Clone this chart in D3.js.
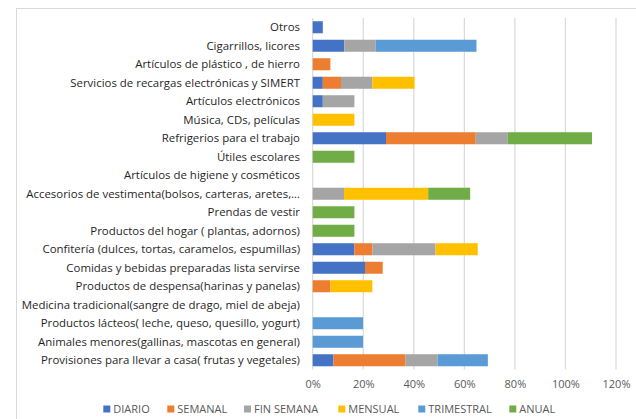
<!DOCTYPE html>
<html><head><meta charset="utf-8">
<script src="https://cdn.jsdelivr.net/npm/d3@7"></script>
<style>
body{margin:0;background:#fff;}
svg{display:block;font-family:"Open Sans","Noto Sans",sans-serif;}
</style></head>
<body><svg id="c" width="636" height="419"></svg>
<script>
const categories = [
 "Otros","Cigarrillos, licores","Artículos de plástico , de hierro",
 "Servicios de recargas electrónicas y SIMERT","Artículos electrónicos",
 "Música, CDs, películas","Refrigerios para el trabajo","Útiles escolares",
 "Artículos de higiene y cosméticos","Accesorios de vestimenta(bolsos, carteras, aretes,…",
 "Prendas de vestir","Productos del hogar ( plantas, adornos)",
 "Confitería (dulces, tortas, caramelos, espumillas)","Comidas y bebidas preparadas lista servirse",
 "Productos de despensa(harinas y panelas)","Medicina tradicional(sangre de drago, miel de abeja)",
 "Productos lácteos( leche, queso, quesillo, yogurt)","Animales menores(gallinas, mascotas en general)",
 "Provisiones para llevar a casa( frutas y vegetales)"
];
const seriesNames = ["DIARIO","SEMANAL","FIN SEMANA","MENSUAL","TRIMESTRAL","ANUAL"];
const diario     = [0.04,0.125,0,0.04,0.04,0,0.29,0,0,0,0,0,0.165,0.207,0,0,0,0,0.082];
const semanal    = [0,0,0.07,0.072,0,0,0.355,0,0,0,0,0,0.071,0.07,0.07,0,0,0,0.284];
const finSemana  = [0,0.124,0,0.124,0.125,0,0.127,0,0,0.124,0,0,0.25,0,0,0,0,0,0.128];
const mensual    = [0,0,0,0.167,0,0.165,0,0,0,0.333,0,0,0.167,0,0.166,0,0,0,0];
const trimestral = [0,0.399,0,0,0,0,0,0,0,0,0,0,0,0,0,0,0.199,0.199,0.199];
const anual      = [0,0,0,0,0,0,0.333,0.165,0,0.166,0.165,0.165,0,0,0,0,0,0,0];
const tickValues = [0,0.2,0.4,0.6,0.8,1.0,1.2];
const colors = ["#4472C4","#ED7D31","#A5A5A5","#FFC000","#5B9BD5","#70AD47"];

const seriesData = [diario,semanal,finSemana,mensual,trimestral,anual];
const rows = categories.map((c,i)=>{const o={cat:c};seriesNames.forEach((s,j)=>o[s]=seriesData[j][i]);return o;});
const stacked = d3.stack().keys(seriesNames)(rows);

const svg = d3.select("#c");
// chart frame
svg.append("rect").attr("x",16.5).attr("y",8.5).attr("width",700).attr("height",500)
  .attr("fill","none").attr("stroke","#d9d9d9").attr("stroke-width",1);

const x = d3.scaleLinear().domain([0,1.2]).range([312.7,616]);
const y = d3.scaleBand().domain(categories).range([18,369.5]).paddingInner(0.35).paddingOuter(0.175);

// gridlines
svg.append("g").selectAll("line").data(tickValues).join("line")
  .attr("x1",d=>x(d)).attr("x2",d=>x(d)).attr("y1",18).attr("y2",369.5)
  .attr("stroke","#d9d9d9").attr("stroke-width",1.2);

// bars
svg.append("g").selectAll("g").data(stacked).join("g")
  .attr("fill",(d,i)=>colors[i])
  .selectAll("rect").data(d=>d.filter(p=>p[1]-p[0]>0)).join("rect")
  .attr("x",d=>x(d[0])).attr("width",d=>x(d[1])-x(d[0]))
  .attr("y",d=>y(d.data.cat)).attr("height",y.bandwidth());

// category labels
svg.append("g").selectAll("text").data(categories).join("text")
  .attr("x",300).attr("y",d=>y(d)+y.bandwidth()/2).attr("dy","0.35em")
  .attr("text-anchor","end").attr("font-size","11.45px").attr("fill","#1f1f1f").text(d=>d);

// x axis tick labels
const xAxis = d3.axisBottom(x).tickValues(tickValues).tickSize(0).tickPadding(0).tickFormat(d3.format(".0%"));
const ax = svg.append("g").attr("transform","translate(0,380.5)").call(xAxis);
ax.select(".domain").remove();
ax.selectAll("text").attr("font-size","11px").attr("fill","#595959").attr("font-family","Open Sans, Noto Sans, sans-serif").attr("dy","0.7em").attr("y",0);

// legend
const legX = [103.3,167.3,244,338.3,418.3,509.3];
const leg = svg.append("g").selectAll("g").data(seriesNames).join("g")
  .attr("transform",(d,i)=>`translate(${legX[i]},405.5)`);
leg.append("rect").attr("width",7).attr("height",7).attr("fill",(d,i)=>colors[i]);
leg.append("text").attr("x",10).attr("y",3.5).attr("dy","0.35em").attr("font-size","11px").attr("fill","#595959").text(d=>d);
</script></body></html>
